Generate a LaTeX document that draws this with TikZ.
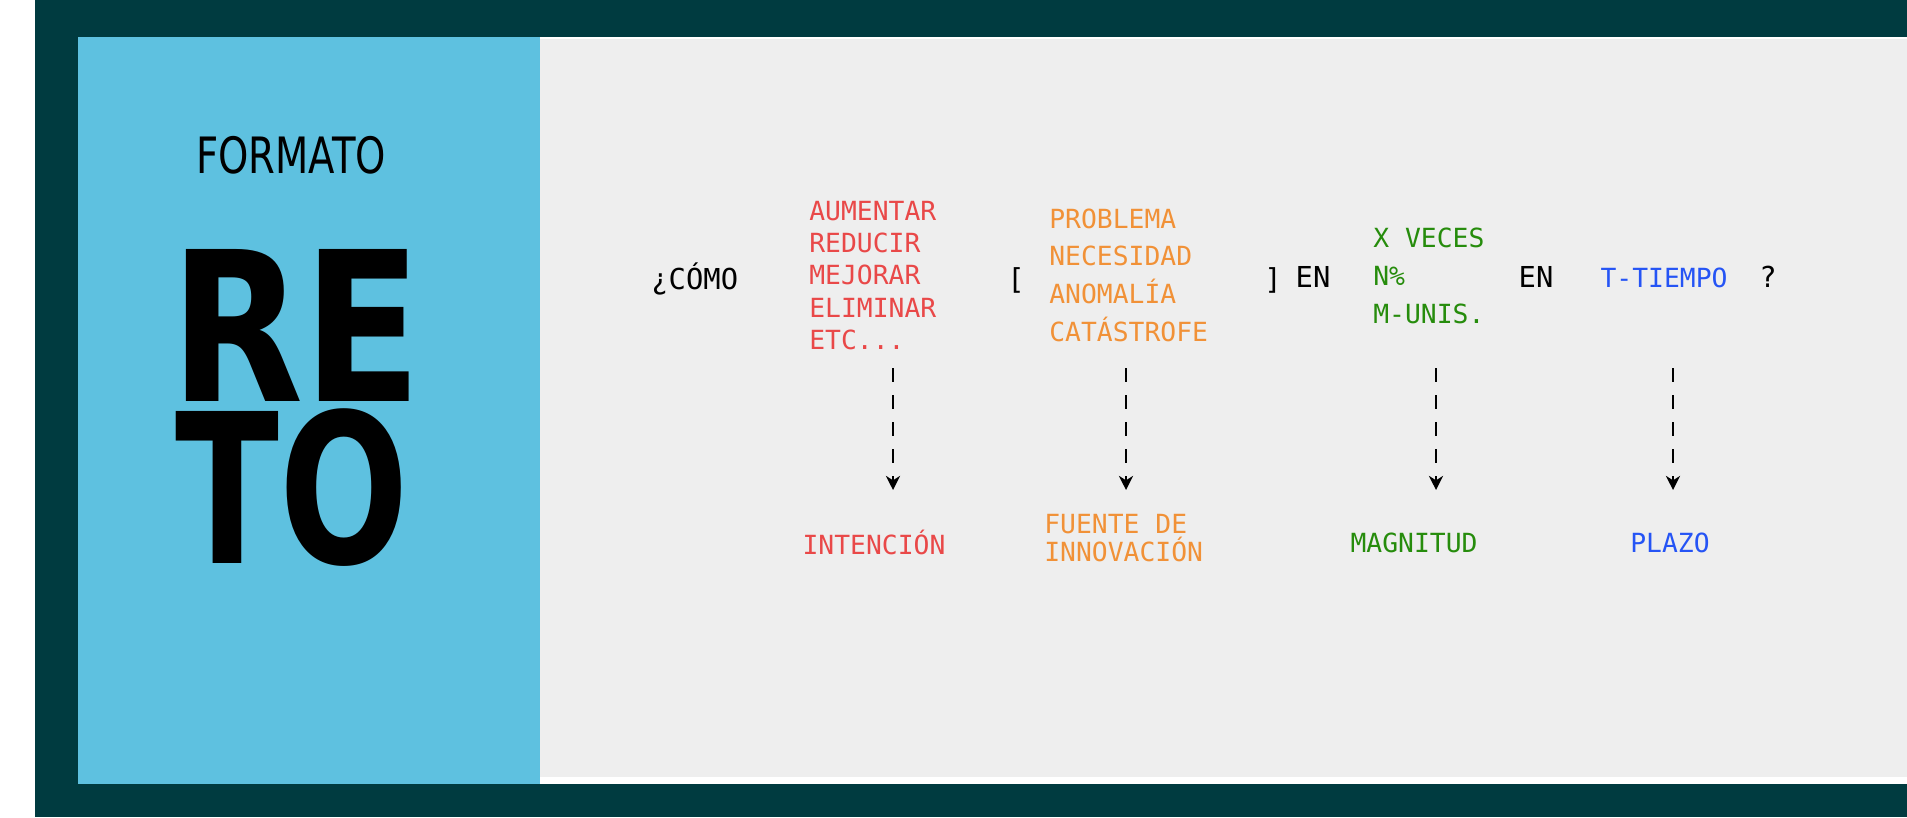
\documentclass[tikz,border=0pt]{standalone}
\usepackage{fontspec}
\setmainfont{DejaVu Sans}
\setmonofont{DejaVu Sans Mono}
\usetikzlibrary{arrows.meta}

\definecolor{fondo}{RGB}{0,59,64}
\definecolor{panel}{RGB}{94,193,224}
\definecolor{hoja}{RGB}{238,238,238}
\definecolor{rojo}{RGB}{233,72,72}
\definecolor{naranja}{RGB}{241,145,55}
\definecolor{verde}{RGB}{38,140,12}
\definecolor{azul}{RGB}{37,84,245}

\newcommand\etcpuntos{ETC...}

\tikzset{
 palabra/.style={font=\ttfamily\fontsize{16.4}{18}\selectfont, inner sep=0pt, anchor=base},
 opcion/.style={font=\ttfamily\fontsize{15}{17}\selectfont, inner sep=0pt, anchor=base west},
 etiqueta/.style={font=\ttfamily\fontsize{15}{15.6}\selectfont, inner sep=0pt, anchor=base},
 letrota/.style={font=\bfseries\fontsize{118.7}{119}\selectfont, anchor=base, inner sep=0pt},
 flecha/.style={line width=1.4pt, dash pattern=on 8pt off 7.4pt,
   -{Stealth[length=8pt,width=8pt,inset=2.5pt]}}
}

\begin{document}
\begin{tikzpicture}
 \useasboundingbox (0,0) rectangle (38.14,-16.34);
 % marco y paneles
 \fill[white] (0,0) rectangle (38.14,-16.34);
 \fill[fondo] (0.70,0) rectangle (38.14,-16.34);
 \fill[panel] (1.56,-0.74) rectangle (10.80,-15.68);
 \fill[white] (10.80,-0.74) rectangle (38.14,-15.68);
 \fill[hoja] (10.80,-0.78) rectangle (38.14,-15.54);

 % titulo
 \node[font=\fontsize{28.5}{30}\selectfont, anchor=base, xscale=0.77, inner sep=0pt]
  (formato) at (5.82,-3.46) {FORMATO};
 \node[letrota, xscale=0.83] (re) at (5.92,-8.02) {RE};
 \node[letrota, xscale=0.73] (to) at (5.84,-11.26) {TO};

 % frase
 \node[palabra, anchor=base west] (como) at (13.02,-5.78) {¿CÓMO};
 \node[palabra] (abre) at (20.32,-5.78) {[};
 \node[palabra] (cierra) at (25.46,-5.78) {]};
 \node[palabra] (en1) at (26.26,-5.74) {EN};
 \node[palabra] (en2) at (30.72,-5.74) {EN};
 \node[opcion, anchor=base, text=azul] (tiempo) at (33.28,-5.74) {T-TIEMPO};
 \node[palabra] (pregunta) at (35.36,-5.74) {?};

 \foreach \w [count=\i] in {AUMENTAR,REDUCIR,MEJORAR,ELIMINAR,\etcpuntos}
  \node[opcion, text=rojo] (verbo\i) at (16.18,-3.76-0.645*\i) {\w};
 \foreach \w [count=\i] in {PROBLEMA,NECESIDAD,ANOMALÍA,CATÁSTROFE}
  \node[opcion, text=naranja] (fuente\i) at (20.98,-3.806-0.754*\i) {\w};
 \foreach \w [count=\i] in {X VECES,N\%,M-UNIS.}
  \node[opcion, text=verde] (cifra\i) at (27.46,-4.18-0.76*\i) {\w};

 % etiquetas
 \node[etiqueta, text=rojo] (intencion) at (17.48,-11.08) {INTENCIÓN};
 \node[etiqueta, text=naranja, anchor=base west, align=left] (fuente) at (20.88,-11.22)
  {FUENTE DE\\INNOVACIÓN};
 \node[etiqueta, text=verde] (magnitud) at (28.28,-11.04) {MAGNITUD};
 \node[etiqueta, text=azul] (plazo) at (33.40,-11.04) {PLAZO};

 % flechas
 \foreach \n/\x in {1/17.86,2/22.52,3/28.72,4/33.46}{
  \coordinate (desde\n) at (\x,-7.36);
  \coordinate (hasta\n) at (\x,-9.80);
  \draw[flecha] (desde\n) -- (hasta\n);
 }
\end{tikzpicture}
\end{document}
